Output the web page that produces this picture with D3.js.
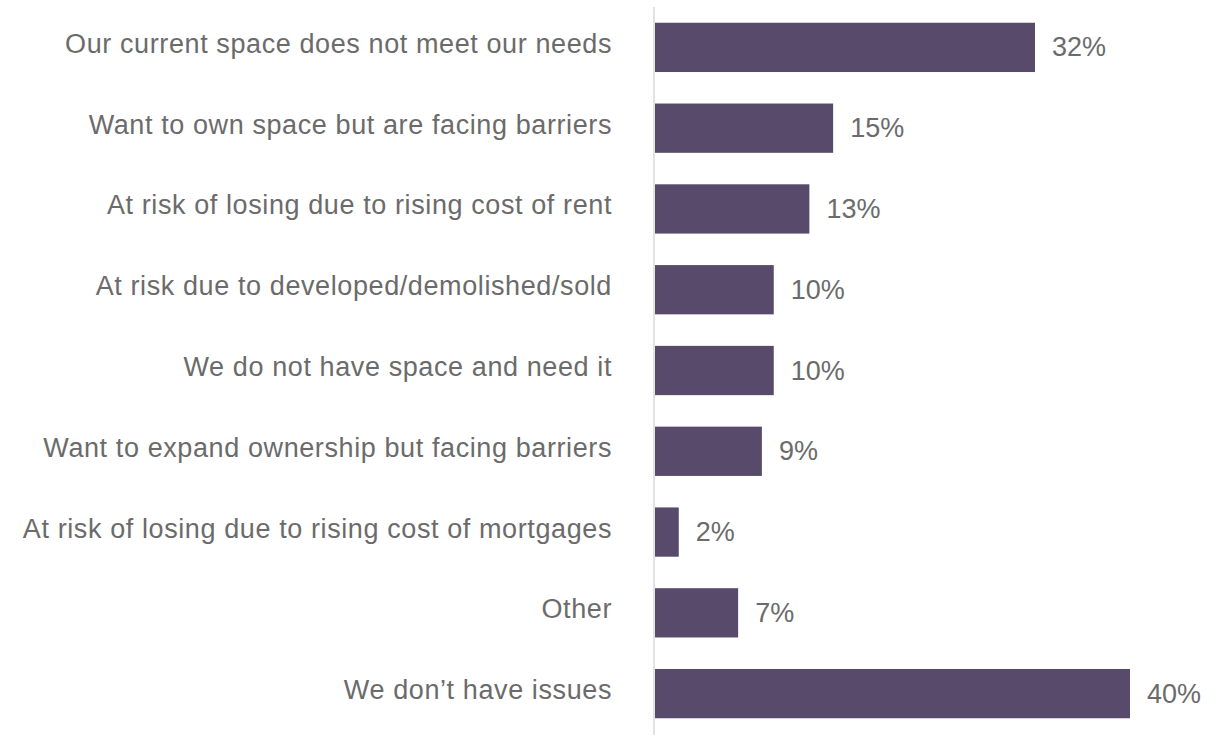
<!DOCTYPE html>
<html>
<head>
<meta charset="utf-8">
<script src="https://cdn.jsdelivr.net/npm/d3@7"></script>
<style>
  html, body { margin: 0; padding: 0; background: #fff; }
  svg { display: block; }
  text { font-family: "Liberation Sans", Arial, Helvetica, sans-serif; }
</style>
</head>
<body>
<svg id="chart" width="1227" height="740"></svg>
<script>
const categories = [
  "Our current space does not meet our needs",
  "Want to own space but are facing barriers",
  "At risk of losing due to rising cost of rent",
  "At risk due to developed/demolished/sold",
  "We do not have space and need it",
  "Want to expand ownership but facing barriers",
  "At risk of losing due to rising cost of mortgages",
  "Other",
  "We don\u2019t have issues"
];
const values = [32, 15, 13, 10, 10, 9, 2, 7, 40];

const svg = d3.select("#chart");
const x0 = 655;
const x = d3.scaleLinear().domain([0, 40]).range([x0, 1130]);
const y = d3.scaleBand().domain(categories).range([7, 734]).paddingInner(0.39).paddingOuter(0.195);

// axis line
svg.append("line")
  .attr("x1", x0 - 1).attr("x2", x0 - 1)
  .attr("y1", 7).attr("y2", 735)
  .attr("stroke", "#d9d9d9").attr("stroke-width", 1.5);

// bars
svg.selectAll("rect.bar").data(values).join("rect")
  .attr("class", "bar")
  .attr("x", x(0))
  .attr("y", (d, i) => y(categories[i]))
  .attr("width", d => x(d) - x(0))
  .attr("height", y.bandwidth())
  .attr("fill", "#584a6a");

// category labels
svg.selectAll("text.cat").data(categories).join("text")
  .attr("class", "cat")
  .attr("x", 612)
  .attr("y", d => y(d) + y.bandwidth() / 2 + 5.5)
  .attr("text-anchor", "end")
  .attr("font-size", 27)
  .attr("letter-spacing", 0.6)
  .attr("fill", "#6b6b6b")
  .text(d => d);

// value labels
svg.selectAll("text.val").data(values).join("text")
  .attr("class", "val")
  .attr("x", d => x(d) + 17)
  .attr("y", (d, i) => y(categories[i]) + y.bandwidth() / 2 + 9)
  .attr("font-size", 27)
  .attr("fill", "#6b6b6b")
  .text(d => d + "%");
</script>
</body>
</html>
